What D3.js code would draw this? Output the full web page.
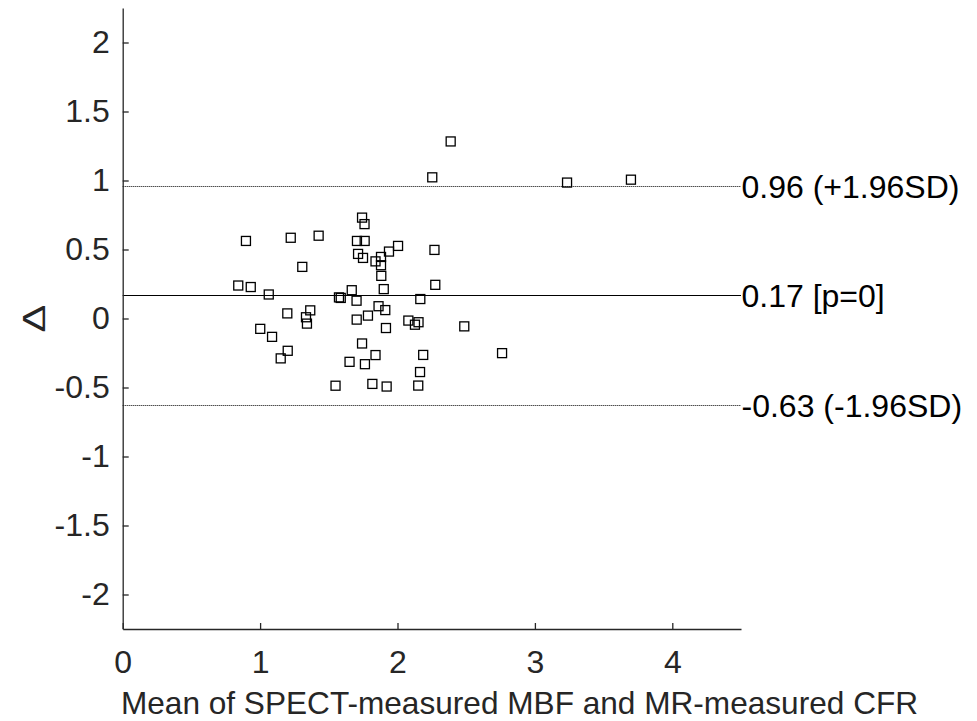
<!DOCTYPE html>
<html>
<head>
<meta charset="utf-8">
<script src="https://cdn.jsdelivr.net/npm/d3@7"></script>
<style>
  html, body { margin: 0; padding: 0; background: #ffffff; }
  svg { display: block; }
  text { font-family: "Liberation Sans", Arial, Helvetica, sans-serif; }
</style>
</head>
<body>
<svg id="chart" width="977" height="721"></svg>
<script>
// ---- data ----
const meanValues = [
  0.897, 1.223, 1.426, 1.307, 0.841, 0.932, 1.063, 1.198, 1.365, 1.334,
  1.341, 1.001, 1.087, 1.201, 1.150, 1.742, 1.760, 1.705, 1.761, 1.713,
  1.749, 1.840, 1.880, 1.938, 2.004, 1.880, 1.882, 2.269, 2.275, 1.667,
  1.900, 1.574, 1.587, 1.702, 2.166, 1.862, 1.911, 1.703, 1.785, 1.916,
  2.079, 2.127, 2.153, 2.486, 1.742, 1.840, 1.651, 1.763, 2.187, 2.164,
  1.549, 1.817, 1.921, 2.151, 2.761, 2.387, 2.253, 3.234, 3.699
];
const diffValues = [
  0.562, 0.585, 0.600, 0.374, 0.239, 0.228, 0.174, 0.037, 0.059, 0.009,
  -0.037, -0.075, -0.133, -0.234, -0.289, 0.731, 0.684, 0.562, 0.562, 0.468,
  0.439, 0.414, 0.446, 0.485, 0.526, 0.386, 0.309, 0.497, 0.244, 0.205,
  0.213, 0.153, 0.149, 0.129, 0.141, 0.089, 0.061, -0.008, 0.021, -0.069,
  -0.015, -0.045, -0.027, -0.057, -0.181, -0.265, -0.314, -0.331, -0.264, -0.388,
  -0.487, -0.474, -0.493, -0.486, -0.251, 1.283, 1.023, 0.985, 1.006
];
const refValues = [0.96, 0.17, -0.63];
const refLabels = ["0.96 (+1.96SD)", "0.17 [p=0]", "-0.63 (-1.96SD)"];
const refStyles = ["dotted", "solid", "dotted"];
const xTicks = [0, 1, 2, 3, 4];
const yTicks = [-2, -1.5, -1, -0.5, 0, 0.5, 1, 1.5, 2];
const xDomain = [0, 4.5];
const yDomain = [-2.25, 2.25];
const xLabel = "Mean of SPECT-measured MBF and MR-measured CFR";
const yLabel = "\u0394";

(function () {
// ---- layout ----
const svg = d3.select("#chart");
const mLeft = 122.7, mRight = 741, mTop = 8, mBottom = 629;
const axisColor = "#262626";
const fontSize = 32;

const x = d3.scaleLinear().domain(xDomain).range([mLeft, mRight]);
const y = d3.scaleLinear().domain(yDomain).range([mBottom, mTop]);

// reference lines
refValues.forEach((v, i) => {
  const yy = Math.round(y(v)) + 0.5;
  svg.append("line")
    .attr("x1", x(xDomain[0])).attr("x2", x(xDomain[1]))
    .attr("y1", yy).attr("y2", yy)
    .attr("stroke", "#000")
    .attr("stroke-width", refStyles[i] === "dotted" ? 1 : 1.2)
    .attr("stroke-dasharray", refStyles[i] === "dotted" ? "1,1" : null);
  svg.append("text")
    .attr("x", x(xDomain[1]) + 0.5)
    .attr("y", yy)
    .attr("dy", "0.36em")
    .attr("font-size", fontSize)
    .attr("fill", "#000")
    .text(refLabels[i]);
});

// axes
const xAxis = d3.axisBottom(x).tickValues(xTicks).tickSizeInner(-6).tickSizeOuter(0)
  .tickPadding(21).tickFormat(d3.format("d"));
const gx = svg.append("g").attr("transform", `translate(0,${mBottom})`).call(xAxis);
const yAxis = d3.axisLeft(y).tickValues(yTicks).tickSizeInner(-6).tickSizeOuter(0)
  .tickPadding(13).tickFormat(d => String(d));
const gy = svg.append("g").attr("transform", `translate(${mLeft},0)`).call(yAxis);

[gx, gy].forEach(g => {
  g.select(".domain").attr("stroke", axisColor).attr("stroke-width", 1.3);
  g.selectAll(".tick line").attr("stroke", axisColor).attr("stroke-width", 1.3);
  g.selectAll(".tick text")
    .attr("font-size", fontSize)
    .attr("fill", axisColor)
    .attr("font-family", "'Liberation Sans', Arial, Helvetica, sans-serif");
});

// points
svg.append("g").selectAll("rect")
  .data(meanValues.map((m, i) => [m, diffValues[i]]))
  .join("rect")
  .attr("x", d => x(d[0]) - 4.5)
  .attr("y", d => y(d[1]) - 4.5)
  .attr("width", 9)
  .attr("height", 9)
  .attr("fill", "none")
  .attr("stroke", "#000")
  .attr("stroke-width", 1.3);

// axis labels
svg.append("text")
  .attr("x", 519.5)
  .attr("y", 714)
  .attr("text-anchor", "middle")
  .attr("font-size", 31.6)
  .attr("fill", axisColor)
  .text(xLabel);

svg.append("text")
  .attr("transform", `translate(45,${y(0)}) rotate(-90) scale(1.3,1)`)
  .attr("text-anchor", "middle")
  .attr("font-size", fontSize)
  .attr("font-weight", "normal")
  .attr("fill", axisColor)
  .text(yLabel);
})();
</script>
</body>
</html>
